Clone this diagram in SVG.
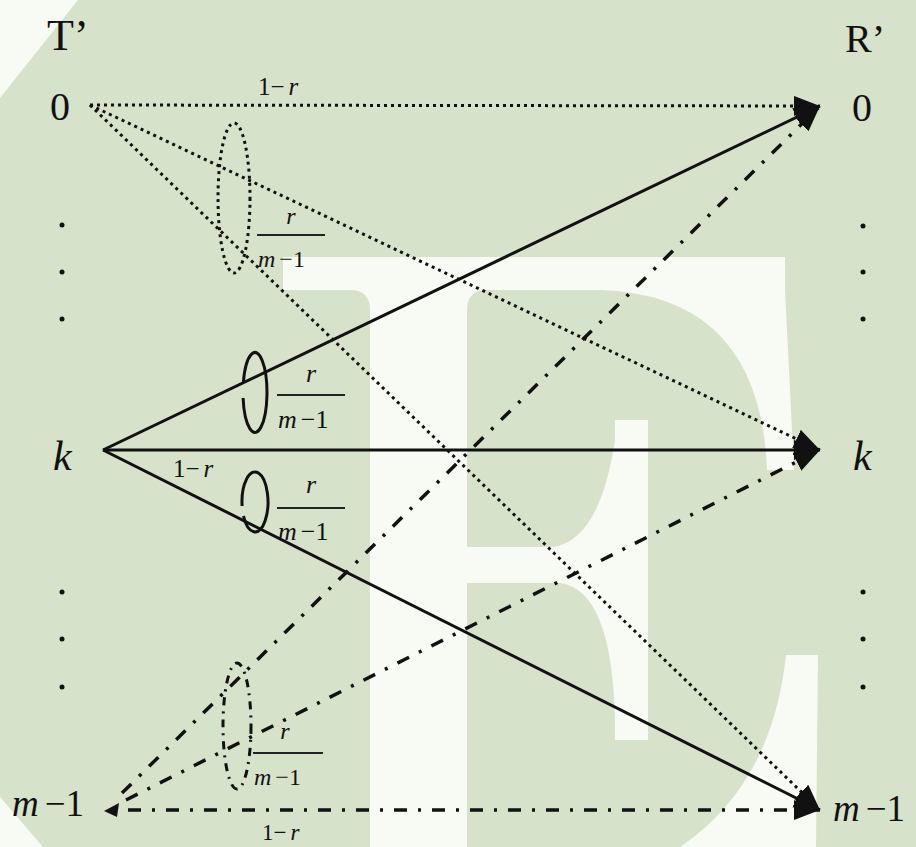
<svg xmlns="http://www.w3.org/2000/svg" width="916" height="847" viewBox="0 0 916 847">
<defs>
<marker id="ah" markerUnits="userSpaceOnUse" markerWidth="28" markerHeight="22" refX="26" refY="10" orient="auto" viewBox="0 0 28 22"><path d="M0,0 L26,10 L0,20 Z" fill="#111"/></marker>
</defs>
<style>
.bg{fill:#d7e2ca}
.wm{fill:#f8faf4}
.t{font-family:"Liberation Serif","Times New Roman",serif;fill:#111}
.i{font-style:italic}
.solid{stroke:#111;stroke-width:3;fill:none}
.dot{stroke:#111;stroke-width:3;fill:none;stroke-dasharray:3 4}
.dd{stroke:#111;stroke-width:3.5;fill:none;stroke-dasharray:13 11 3 11}
.bar{stroke:#222;stroke-width:2}
.vd{fill:#111}
</style>
<g id="background">
<rect class="bg" x="0" y="0" width="916" height="847"/>
<path class="wm" d="M0,0 L78,0 L0,98 Z"/>
<path class="wm" d="M0,797 L43,847 L0,847 Z"/>
<path class="wm" d="M283,257 L785,257 L785,290 L487,290 Q467,290 467,310 L467,847 L370,847 L370,310 Q370,290 350,290 L283,290 Z"/>
<path class="wm" d="M600,290 L785,290 L794,470 L767,470 Q760,295 600,290 Z"/>
<rect class="wm" x="615" y="420" width="33" height="320"/>
<path class="wm" d="M615,440 Q600,540 553,547 L467,547 L467,583 L560,583 Q612,590 615,720 Z"/>
<path class="wm" d="M786,655 L818,655 L816,847 L680,847 Q772,785 786,655 Z"/>
</g>
<g id="connectors">
<line class="dot" x1="90" y1="105" x2="820" y2="106" marker-end="url(#ah)"/>
<line class="dot" x1="90" y1="105" x2="820" y2="450" marker-end="url(#ah)"/>
<line class="dot" x1="90" y1="105" x2="820" y2="810" marker-end="url(#ah)"/>
<line class="solid" x1="103" y1="450" x2="820" y2="106" marker-end="url(#ah)"/>
<line class="solid" x1="103" y1="450" x2="820" y2="450" marker-end="url(#ah)"/>
<line class="solid" x1="103" y1="450" x2="820" y2="810" marker-end="url(#ah)"/>
<line class="dd" x1="122" y1="793" x2="820" y2="106" marker-end="url(#ah)"/>
<line class="dd" x1="126" y1="800" x2="820" y2="450" marker-end="url(#ah)"/>
<line class="dd" x1="128" y1="810" x2="820" y2="810" marker-end="url(#ah)"/>
<polygon class="vd" points="104,811 119,803 117,817"/>
<ellipse class="dot" cx="234" cy="198" rx="16" ry="75"/>
<path class="solid" d="M243.1,398 A12,40 0 1 0 243.4,382"/>
<path class="solid" d="M243.5,516 A13,30 0 1 0 242.1,506"/>
<ellipse class="dd" style="stroke-width:3;stroke-dasharray:8 6 2 6" cx="237" cy="726" rx="14" ry="63"/>
</g>
<g id="labels-edges">
<text class="t" x="258" y="95" font-size="25">1−<tspan class="i" dx="4">r</tspan></text>
<text class="t" x="173" y="477" font-size="25">1−<tspan class="i" dx="4">r</tspan></text>
<text class="t" x="262" y="840" font-size="23">1−<tspan class="i" dx="4">r</tspan></text>
<g id="frac-dotted">
<text class="t i" x="291" y="224" font-size="24" text-anchor="middle">r</text>
<line class="bar" x1="257" y1="235" x2="325" y2="235"/>
<text class="t" x="258" y="267" font-size="24"><tspan class="i">m</tspan><tspan dx="4">−1</tspan></text>
</g>
<g id="frac-solid-top">
<text class="t i" x="311" y="382" font-size="26" text-anchor="middle">r</text>
<line class="bar" x1="277" y1="395" x2="345" y2="395"/>
<text class="t" x="278" y="428" font-size="26"><tspan class="i">m</tspan><tspan dx="4">−1</tspan></text>
</g>
<g id="frac-solid-bottom">
<text class="t i" x="311" y="493" font-size="26" text-anchor="middle">r</text>
<line class="bar" x1="277" y1="508" x2="345" y2="508"/>
<text class="t" x="278" y="540" font-size="26"><tspan class="i">m</tspan><tspan dx="4">−1</tspan></text>
</g>
<g id="frac-dashdot">
<text class="t i" x="285" y="739" font-size="24" text-anchor="middle">r</text>
<line class="bar" x1="253" y1="753" x2="323" y2="753"/>
<text class="t" x="254" y="785" font-size="24"><tspan class="i">m</tspan><tspan dx="4">−1</tspan></text>
</g>
</g>
<g id="header-T"><text class="t" x="47" y="50" font-size="44">T’</text></g>
<g id="header-R"><text class="t" x="845" y="52" font-size="40">R’</text></g>
<g id="node-T0"><text class="t" x="50" y="120" font-size="40">0</text></g>
<g id="node-Tk"><text class="t i" x="53" y="470" font-size="42">k</text></g>
<g id="node-Tm"><text class="t" x="12" y="816" font-size="37"><tspan class="i">m</tspan><tspan dx="6">−1</tspan></text></g>
<g id="node-R0"><text class="t" x="852" y="121" font-size="40">0</text></g>
<g id="node-Rk"><text class="t i" x="853" y="470" font-size="42">k</text></g>
<g id="node-Rm"><text class="t" x="833" y="821" font-size="37"><tspan class="i">m</tspan><tspan dx="6">−1</tspan></text></g>
<g id="ellipsis-left">
<circle class="vd" cx="62" cy="225" r="2.5"/><circle class="vd" cx="62" cy="272" r="2.5"/><circle class="vd" cx="62" cy="319" r="2.5"/>
<circle class="vd" cx="62" cy="592" r="2.5"/><circle class="vd" cx="62" cy="639" r="2.5"/><circle class="vd" cx="62" cy="687" r="2.5"/>
</g>
<g id="ellipsis-right">
<circle class="vd" cx="863" cy="226" r="2.5"/><circle class="vd" cx="863" cy="272" r="2.5"/><circle class="vd" cx="863" cy="319" r="2.5"/>
<circle class="vd" cx="863" cy="592" r="2.5"/><circle class="vd" cx="863" cy="639" r="2.5"/><circle class="vd" cx="863" cy="687" r="2.5"/>
</g>
</svg>
